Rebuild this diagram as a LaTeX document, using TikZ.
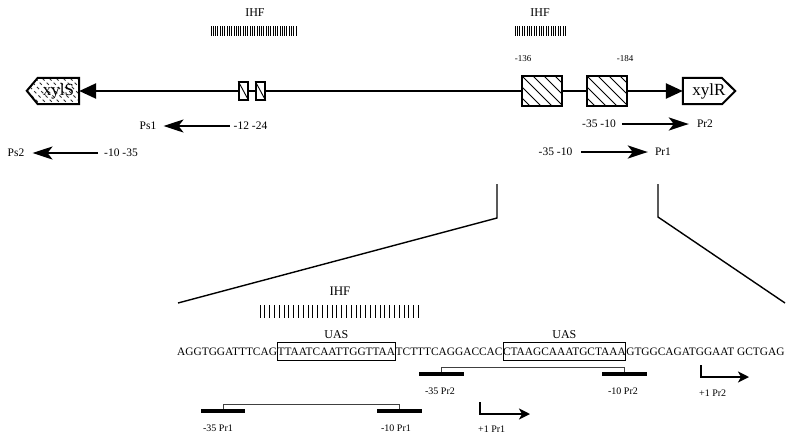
\documentclass[tikz,border=0pt]{standalone}
\usepackage{fontspec}
\setmainfont{Liberation Serif}
\usetikzlibrary{arrows.meta}
\begin{document}
\begin{tikzpicture}[x=1pt,y=-1pt,
  lbl/.style={inner sep=0pt,font=\fontsize{11.5}{12}\selectfont},
  small/.style={inner sep=0pt,font=\fontsize{9}{10}\selectfont},
  plbl/.style={inner sep=0pt,font=\fontsize{10}{11}\selectfont},
  genetext/.style={inner sep=0pt,font=\fontsize{17}{18}\selectfont},
  mainline/.style={line width=2.5pt},
  tri/.style={-{Triangle[length=17pt,width=15pt]}},
  pro/.style={line width=2.3pt,-{Stealth[length=20pt,width=13pt,inset=5pt]}},
  sbox/.style={draw,line width=1.6pt,minimum width=9pt,minimum height=18pt,inner sep=0pt,fill=white},
  hbox/.style={draw,line width=1.8pt,minimum width=40pt,minimum height=30pt,inner sep=0pt,fill=white,
     path picture={\foreach \i in {-4,...,4}
        \draw[line width=1pt] ([xshift=\i*11pt]path picture bounding box.north west) -- ++(32pt,-32pt);}},
  zoomline/.style={line width=1.4pt},
  seq/.style={inner xsep=0pt,inner ysep=0pt,font=\fontsize{11.37}{12}\selectfont,anchor=base west},
  seqbox/.style={seq,draw,line width=0.8pt,text height=7.5pt,text depth=0pt,inner ysep=5.25pt},
  uas/.style={anchor=south,font=\fontsize{12}{13}\selectfont},
  pel/.style={fill=black,inner sep=0pt,minimum height=3.5pt},
  brk/.style={line width=0.8pt,black!75},
  bent/.style={line width=2.4pt,-{Stealth[length=11pt,width=11pt,inset=3pt]}},
  bars/.style={line width=0.9pt}
]
\useasboundingbox (0,0) rectangle (800,437);
\fill[white] (0,0) rectangle (800,437);

% ---------- IHF top ----------
\node[lbl,font=\fontsize{12}{13}\selectfont] (ihf1) at (255,13) {IHF};
\node[lbl,font=\fontsize{12}{13}\selectfont] (ihf2) at (540,13) {IHF};
\foreach \x in {211,213.3,...,298} \draw[bars] (\x,26) -- (\x,36);
\foreach \x in {515,517.4,...,566} \draw[bars] (\x,26) -- (\x,36);

\node[small] (n136) at (523,59) {-136};
\node[small] (n184) at (625,59) {-184};

% ---------- genes ----------
\node[genetext,minimum width=41pt,minimum height=26pt] (xylS) at (58.5,91) {};
\begin{scope}
  \clip (xylS.north east) -- (xylS.north west) -- ++(-11,13) -- (xylS.south west) -- (xylS.south east) -- cycle;
  \foreach \i in {-2,...,10}
    \draw[line width=0.8pt,dash pattern=on 3pt off 3pt,black!80] (20+\i*7,70) -- ++(36,36);
\end{scope}
\draw[line width=2pt,line join=miter] (xylS.north east) -- (xylS.north west) -- ++(-11,13) -- (xylS.south west) -- (xylS.south east) -- cycle;
\node[genetext] at (xylS.center) {xylS};

\node[genetext,minimum width=52pt,minimum height=26pt] (xylR) at (709,91) {xylR};
\draw[line width=2pt,line join=miter] (xylR.north west) -- ++(39,0) -- (xylR.east) -- ++(-13,13) -- (xylR.south west) -- cycle;

% ---------- main line ----------
\node[sbox] (sb1) at (243.5,91) {};
\node[sbox] (sb2) at (260.5,91) {};
\draw[line width=0.9pt] (sb1.north west) -- (sb1.south east);
\draw[line width=0.9pt] (sb2.north west) -- (sb2.south east);
\node[hbox] (hb1) at (542,91) {};
\node[hbox] (hb2) at (607,91) {};

\draw[mainline,tri] (sb1.west) -- (xylS.east);
\draw[mainline] (sb1.east) -- (sb2.west);
\draw[mainline] (sb2.east) -- (hb1.west);
\draw[mainline] (hb1.east) -- (hb2.west);
\draw[mainline,tri] (hb2.east) -- (xylR.west);

% ---------- promoter arrows ----------
\node[lbl] (ps1) at (148,126) {Ps1};
\node[lbl] (ps1p) at (250.5,126) {-12 -24};
\draw[pro,shorten <=4pt,shorten >=7pt] (ps1p.west) -- (ps1.east);

\node[lbl] (ps2) at (16,153) {Ps2};
\node[lbl] (ps2p) at (121,153) {-10 -35};
\draw[pro,shorten <=6pt,shorten >=8pt] (ps2p.west) -- (ps2.east);

\node[lbl] (pr2p) at (599,124) {-35 -10};
\node[lbl] (pr2) at (705,124) {Pr2};
\draw[pro,shorten <=6pt,shorten >=8pt] (pr2p.east) -- (pr2.west);

\node[lbl] (pr1p) at (555.5,152) {-35 -10};
\node[lbl] (pr1) at (663,152) {Pr1};
\draw[pro,shorten <=9pt,shorten >=7pt] (pr1p.east) -- (pr1.west);

% ---------- zoom lines ----------
\coordinate (za) at (497,184);
\coordinate (zb) at (497,218);
\coordinate (zc) at (178,303);
\coordinate (zd) at (658,184);
\coordinate (ze) at (658,217);
\coordinate (zf) at (785,303);
\draw[zoomline] (za) -- (zb) -- (zc);
\draw[zoomline] (zd) -- (ze) -- (zf);

% ---------- lower IHF ----------
\node[lbl,font=\fontsize{13}{14}\selectfont] (ihf3) at (340,291) {IHF};
\foreach \x in {260,264.8,...,423} \draw[bars] (\x,305) -- (\x,318);

% ---------- sequence ----------
\node[seq] (q1) at (177,355.5) {AGGTGGATTTCAG};
\node[seqbox] (q2) at (q1.base east) {TTAATCAATTGGTTAA};
\node[seq] (q3) at (q2.base east) {TCTTTCAGGACCAC};
\node[seqbox] (q4) at (q3.base east) {CTAAGCAAATGCTAAA};
\node[seq] (q5) at (q4.base east) {GTGGCAGATGGAAT GCTGAG};
\node[uas] (uas1) at (q2.north) {UAS};
\node[uas] (uas2) at (q4.north) {UAS};

% ---------- Pr2 detail ----------
\node[pel,minimum width=45pt] (m35r2) at (441.5,374) {};
\node[pel,minimum width=45pt] (m10r2) at (624.5,374) {};
\draw[brk] (m35r2.north) -- ++(0,-5) -| (m10r2.north);
\node[plbl] (l35r2) at (440,391) {-35 Pr2};
\node[plbl] (l10r2) at (623,391) {-10 Pr2};
\coordinate (t2a) at (701,365);
\coordinate (t2b) at (749,377);
\draw[bent] (t2a) |- (t2b);
\node[plbl,anchor=west] (p1r2) at (699,393) {+1 Pr2};

% ---------- Pr1 detail ----------
\node[pel,minimum width=44pt] (m35r1) at (223,411) {};
\node[pel,minimum width=45pt] (m10r1) at (399.5,411) {};
\draw[brk] (m35r1.north) -- ++(0,-5) -| (m10r1.north);
\node[plbl] (l35r1) at (218,428) {-35 Pr1};
\node[plbl] (l10r1) at (396,428) {-10 Pr1};
\coordinate (t1a) at (480,402);
\coordinate (t1b) at (530,414);
\draw[bent] (t1a) |- (t1b);
\node[plbl,anchor=west] (p1r1) at (478,429) {+1 Pr1};
\end{tikzpicture}
\end{document}
